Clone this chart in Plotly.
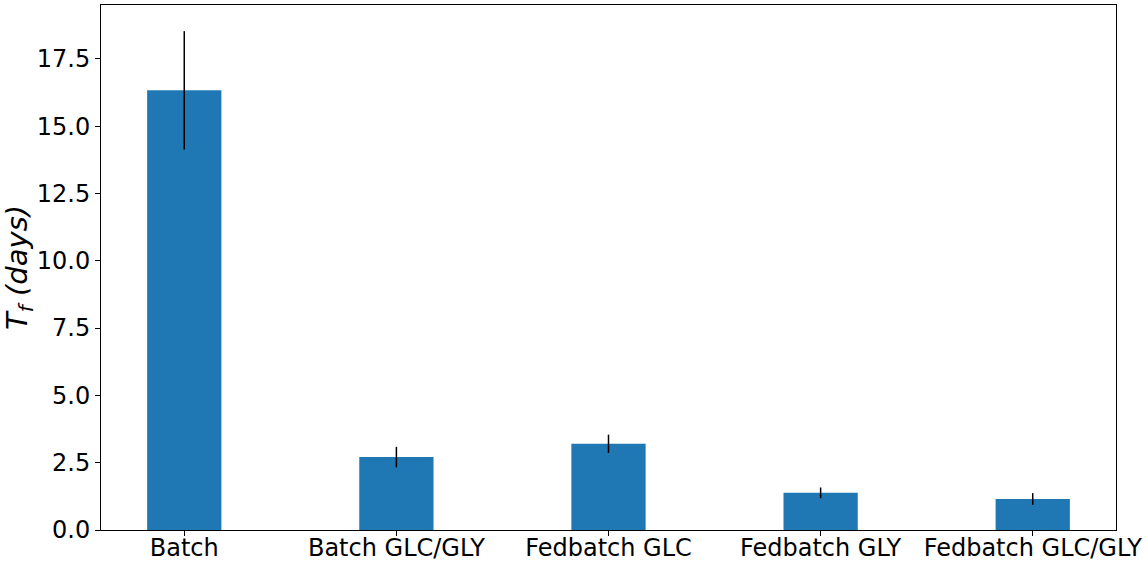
import plotly.graph_objects as go

categories = ["Batch", "Batch GLC/GLY", "Fedbatch GLC", "Fedbatch GLY", "Fedbatch GLC/GLY"]
tf_mean = [16.33, 2.71, 3.2, 1.38, 1.15]
tf_err = [2.2, 0.38, 0.34, 0.2, 0.22]
y_ticks = [0, 2.5, 5, 7.5, 10, 12.5, 15, 17.5]
y_tick_labels = ["0.0", "2.5", "5.0", "7.5", "10.0", "12.5", "15.0", "17.5"]

x_pos = list(range(len(categories)))

fig = go.Figure(go.Bar(
    x=x_pos, y=tf_mean, width=0.35,
    marker=dict(color="#1f77b4", line=dict(width=0)),
    error_y=dict(type="data", array=tf_err, visible=True, color="black", thickness=1.5, width=0),
))

axis_common = dict(
    showline=True, linecolor="black", linewidth=1, mirror=True,
    ticks="outside", ticklen=5, tickwidth=1, tickcolor="black",
    showgrid=False, zeroline=False, automargin=False,
    tickfont=dict(family="DejaVu Sans", size=24, color="black"),
)

fig.update_layout(
    width=1148, height=563,
    margin=dict(l=101, r=32, t=5, b=33),
    plot_bgcolor="white", paper_bgcolor="white",
    showlegend=False,
    font=dict(family="DejaVu Sans", color="black", size=24),
    xaxis=dict(range=[-0.3925, 4.3925], tickvals=x_pos, ticktext=categories,
               ticklabelstandoff=-9, **axis_common),
    yaxis=dict(range=[0, 19.5], tickvals=y_ticks, ticktext=y_tick_labels,
               title=dict(text="<i>T<sub>f</sub> (days)</i>", font=dict(family="DejaVu Sans", size=29, color="black"), standoff=6),
               **axis_common),
)

fig.write_html("out.html", config={"displayModeBar": False},
               post_script="document.body.style.margin='0';document.body.style.padding='0';")
